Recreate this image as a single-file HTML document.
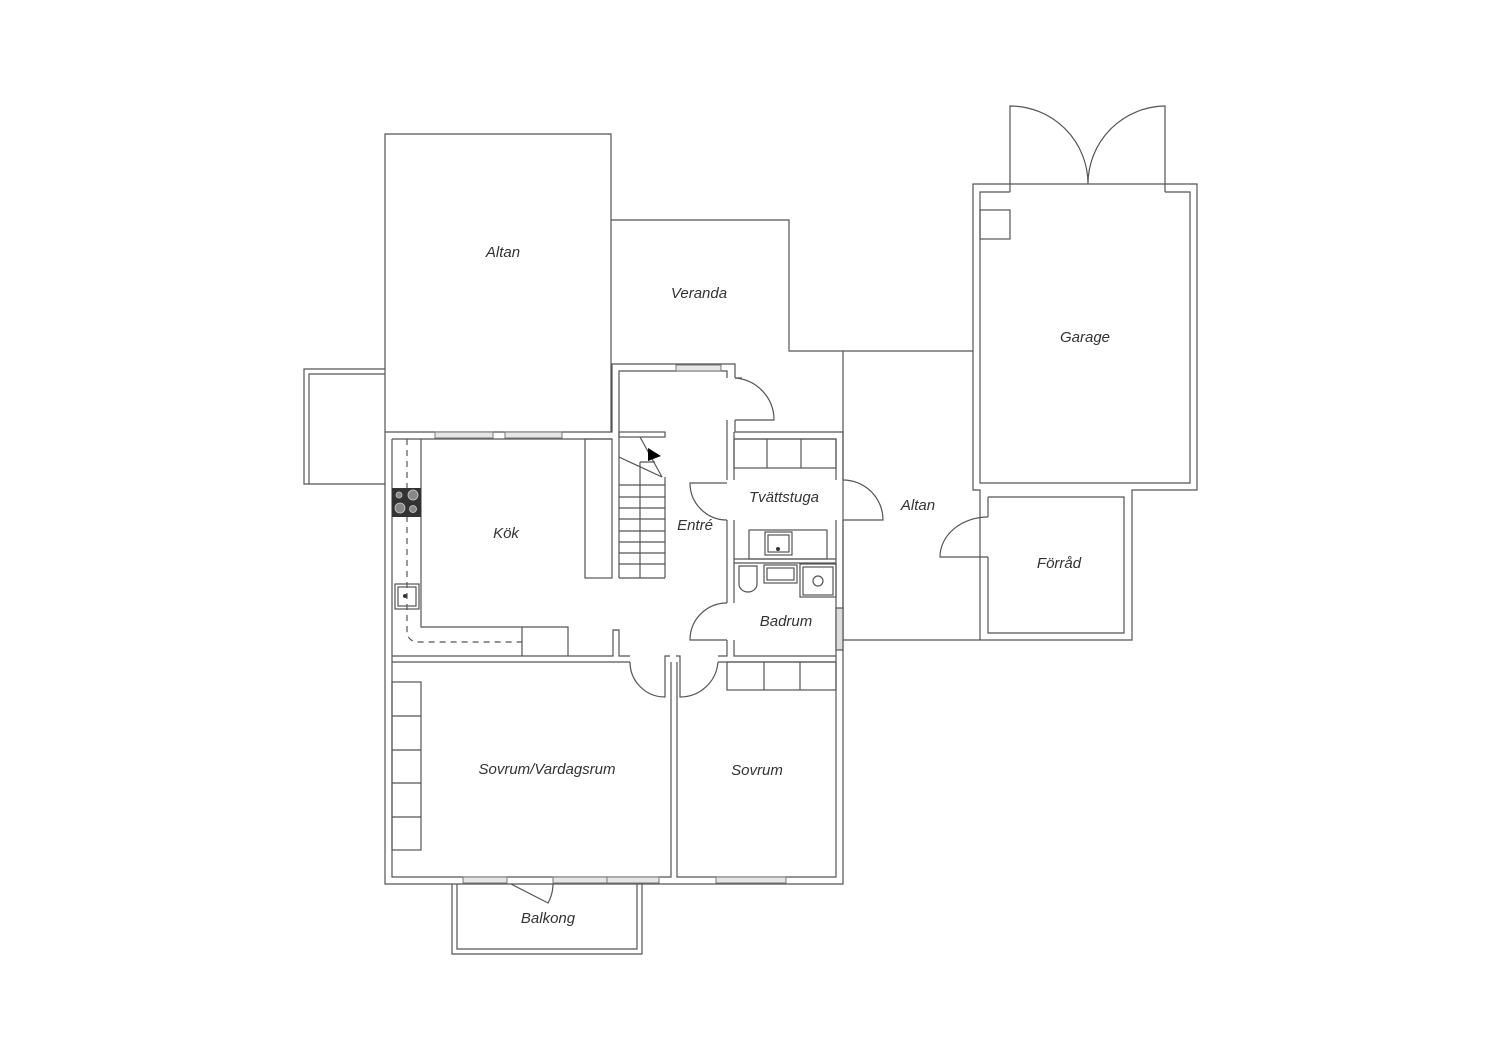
<!DOCTYPE html>
<html><head><meta charset="utf-8"><style>
html,body{margin:0;padding:0;background:#fff}
svg{display:block}
text{font-family:"Liberation Sans",sans-serif;font-style:italic;font-size:15px;fill:#333;text-anchor:middle}
</style></head><body>
<svg width="1500" height="1060" viewBox="0 0 1500 1060" xmlns="http://www.w3.org/2000/svg">
<g fill="none" stroke="#555" stroke-width="1.2">
<polyline points="385,432 385,134 611,134 611,432"/>
<polyline points="385,369 304,369 304,484 385,484"/>
<polyline points="385,374 309,374 309,484"/>
<polyline points="611,220 789,220 789,351 843,351"/>
<polyline points="843,351 973,351"/>
<line x1="843" y1="351" x2="843" y2="640"/>
<line x1="843" y1="640" x2="980" y2="640"/>
<polyline points="385,432 612,432 612,364 735,364 735,378"/>
<polyline points="735,420 735,432 843,432 843,480"/>
<polyline points="843,520 843,884 385,884 385,432"/>
<polyline points="392,439 612,439"/>
<polyline points="619,578 619,371 727,371 727,378"/>
<polyline points="727,420 727,480"/>
<polyline points="392,439 392,877 671,877 671,662"/>
<polyline points="677,662 677,877 836,877 836,520"/>
<line x1="836" y1="480" x2="836" y2="439"/>
<line x1="734" y1="439" x2="836" y2="439"/>
<path d="M735,378 L742,378 M735,420 L774,420 A42,42 0 0 0 735,378"/>
<polyline points="392,656 613,656 613,630 619,630 619,656 630,656"/>
<polyline points="392,662 630,662"/>
<polyline points="665,662 665,656 670,656"/>
<polyline points="676,656 680,656 680,662"/>
<polyline points="718,662 836,662"/>
<polyline points="718,656 727,656 727,640"/>
<polyline points="734,640 734,656 836,656"/>
<polyline points="734,432 734,480"/>
<polyline points="727,520 727,603"/>
<polyline points="734,520 734,603"/>
<path d="M727,483 L690,483 A37,37 0 0 0 727,520"/>
<path d="M727,640 L690,640 A37,37 0 0 1 727,603"/>
<path d="M843,520 L883,520 A40,40 0 0 0 843,480"/>
<polyline points="734,559 836,559"/><polyline points="734,563 836,563"/>
<path d="M665,662 L665,697 A35,35 0 0 1 630,662"/>
<path d="M680,662 L680,697 A38,38 0 0 0 718,662"/>
<polyline points="421,439 421,627 568,627 568,656"/>
<line x1="522" y1="627" x2="522" y2="656"/>
<path d="M407,439 L407,630 Q407,642 419,642 L522,642" stroke-dasharray="6,5"/>
<rect x="395" y="584" width="24" height="25"/>
<rect x="398" y="587" width="18" height="19"/>
<rect x="585" y="439" width="27" height="139"/>
<rect x="619" y="432" width="46" height="5"/>
<line x1="665" y1="477" x2="665" y2="578"/>
<line x1="640" y1="462" x2="640" y2="578"/>
<line x1="619" y1="578" x2="665" y2="578"/>
<path d="M619,457 L662,477 M640,437 L662,477 M640,462 L655,462"/>
<path d="M619,485 H665 M619,497 H665 M619,508 H665 M619,519 H665 M619,531 H665 M619,542 H665 M619,553 H665 M619,564 H665"/>
<rect x="734" y="439" width="102" height="29"/>
<line x1="767" y1="439" x2="767" y2="468"/><line x1="801" y1="439" x2="801" y2="468"/>
<rect x="749" y="530" width="78" height="29"/>
<rect x="765" y="532" width="27" height="23"/><rect x="768" y="535" width="21" height="17"/>
<path d="M739,566 H757 V584 A9,8 0 0 1 739,584 Z"/>
<rect x="764" y="565" width="33" height="18"/><rect x="767" y="568" width="27" height="12"/>
<rect x="800" y="564" width="36" height="33"/><rect x="803" y="567" width="30" height="28"/>
<circle cx="818" cy="581" r="5"/>
<rect x="836" y="608" width="7" height="42" fill="#ddd"/>
<rect x="727" y="662" width="109" height="28"/>
<line x1="764" y1="662" x2="764" y2="690"/><line x1="800" y1="662" x2="800" y2="690"/>
<rect x="392" y="682" width="29" height="168"/>
<path d="M392,716 H421 M392,750 H421 M392,783 H421 M392,817 H421"/>
<polyline points="452,884 452,954 642,954 642,884"/>
<polyline points="457,884 457,949 637,949 637,884"/>
<path d="M511,884 L548,903 A40,40 0 0 0 553,884"/>
<!-- Garage -->
<polyline points="973,351 973,184 1197,184 1197,490 1132,490 1132,640 980,640"/>
<polyline points="973,351 973,490 980,490 980,640"/>
<polyline points="1010,192 980,192 980,483 1190,483 1190,192 1165,192"/>
<polyline points="988,497 1124,497 1124,633 988,633 988,557"/>
<line x1="988" y1="497" x2="988" y2="517"/>
<path d="M988,557 L940,557 A48,40 0 0 1 988,517"/>
<path d="M1010,192 L1010,106 A78,78 0 0 1 1088,184 M1165,192 L1165,106 A78,78 0 0 0 1088,184"/>
<rect x="980" y="210" width="30" height="29"/>
</g>
<g fill="#e6e6e6" stroke="#777" stroke-width="1">
<rect x="435" y="432" width="58" height="6"/><rect x="505" y="432" width="57" height="6"/>
<rect x="676" y="365" width="45" height="6"/>
<rect x="463" y="877" width="44" height="6"/><rect x="553" y="877" width="54" height="6"/>
<rect x="607" y="877" width="52" height="6"/><rect x="716" y="877" width="70" height="6"/>
</g>
<rect x="392" y="488" width="29" height="29" fill="#333"/>
<g fill="#888" stroke="#ccc" stroke-width="0.8">
<circle cx="399" cy="495" r="3"/><circle cx="413" cy="495" r="5"/>
<circle cx="400" cy="508" r="5"/><circle cx="413" cy="509" r="3.5"/>
</g>
<polygon points="648,448 661,456 648,461" fill="#000"/>
<circle cx="405" cy="596" r="2" fill="#333"/><circle cx="778" cy="549" r="2" fill="#333"/>
<text x="503" y="257">Altan</text>
<text x="699" y="298">Veranda</text>
<text x="1085" y="342">Garage</text>
<text x="506" y="538">Kök</text>
<text x="695" y="530">Entré</text>
<text x="784" y="502">Tvättstuga</text>
<text x="918" y="510">Altan</text>
<text x="1059" y="568">Förråd</text>
<text x="786" y="626">Badrum</text>
<text x="547" y="774">Sovrum/Vardagsrum</text>
<text x="757" y="775">Sovrum</text>
<text x="548" y="923">Balkong</text>
</svg>
</body></html>
